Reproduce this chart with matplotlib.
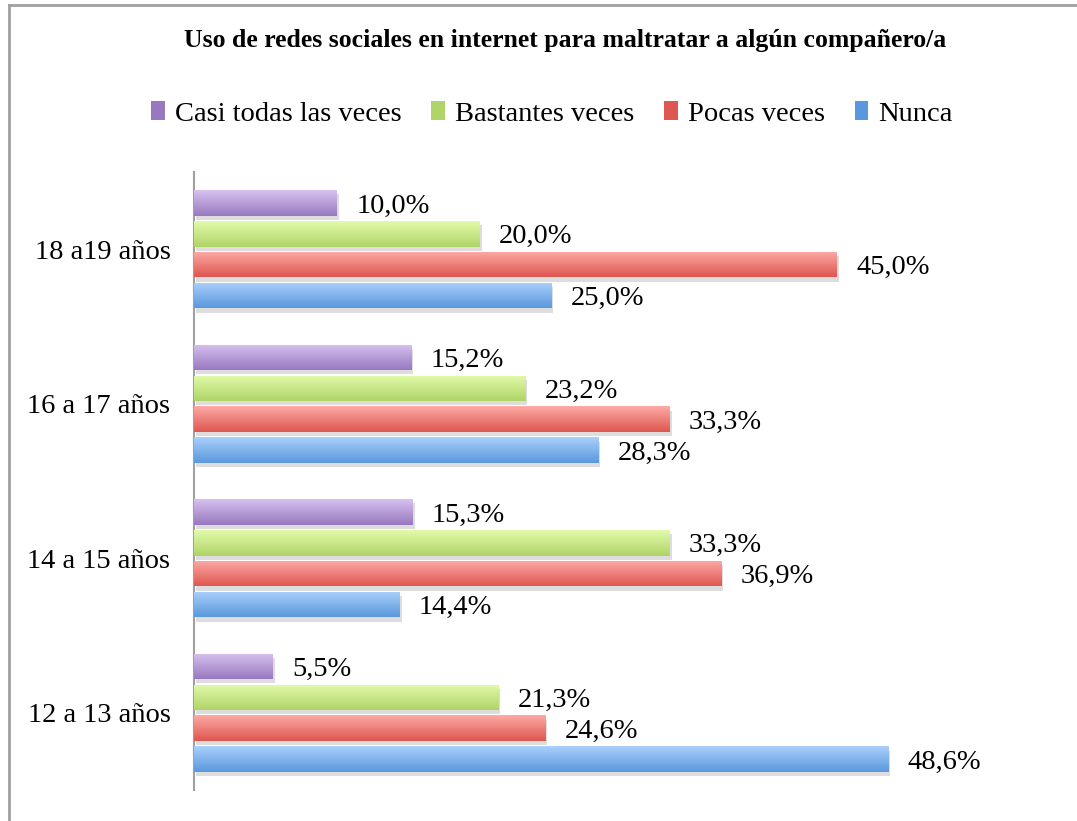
import numpy as np
import matplotlib.pyplot as plt
from matplotlib.patches import Patch
from matplotlib.lines import Line2D
import matplotlib.patheffects as pe
from matplotlib.colors import LinearSegmentedColormap

plt.rcParams['font.family'] = ['Liberation Serif', 'DejaVu Serif']

categorias = ['12 a 13 años', '14 a 15 años', '16 a 17 años', '18 a19 años']
series = ['Casi todas las veces', 'Bastantes veces', 'Pocas veces', 'Nunca']
casi_todas = [5.5, 15.3, 15.2, 10.0]
bastantes = [21.3, 33.3, 23.2, 20.0]
pocas = [24.6, 36.9, 33.3, 45.0]
nunca = [48.6, 14.4, 28.3, 25.0]
valores = [casi_todas, bastantes, pocas, nunca]

# gradient top (light) -> bottom (dark)
colores = [('#d6c2f0', '#9878bf'),
           ('#e2faaa', '#b0d468'),
           ('#fdaaa6', '#de5750'),
           ('#aad0fb', '#5a98dd')]

fig = plt.figure(figsize=(10.77, 8.21), dpi=100)
ax = fig.add_axes([194/1077, 1 - 790/821, 857/1077, 618/821])

y = np.arange(len(categorias))
h = 0.2
alto = 0.165
offsets = [1.5*h, 0.5*h, -0.5*h, -1.5*h]

for vals, (c1, c2), off, name in zip(valores, colores, offsets, series):
    cmap = LinearSegmentedColormap.from_list(name, [c2, c1])
    bars = ax.barh(y + off, vals, height=alto, color=c2, zorder=2,
                   path_effects=[pe.SimplePatchShadow(offset=(1.5, -3), shadow_rgbFace='#909090', alpha=0.3),
                                 pe.Normal()])
    for b, v in zip(bars, vals):
        x0, y0 = b.get_x(), b.get_y()
        grad = np.linspace(0, 1, 64).reshape(-1, 1)
        im = ax.imshow(grad, cmap=cmap, aspect='auto', origin='lower',
                       extent=(x0, x0 + b.get_width(), y0, y0 + b.get_height()), zorder=3)
        im.set_clip_path(b)
        ax.text(v + 1.35, b.get_y() + b.get_height()/2 - 0.02, ('%.1f%%' % v).replace('.', ','),
                va='center', ha='left', fontsize=20.5, zorder=4)

ax.set_xlim(0, 60)
ax.set_ylim(-0.5, 3.5)
ax.set_yticks(y)
ax.set_yticklabels(categorias, fontsize=20.5)
ax.tick_params(axis='y', length=0, pad=17)
ax.set_xticks([])
for s in ['top', 'right', 'bottom']:
    ax.spines[s].set_visible(False)
ax.spines['left'].set_color('#a0a0a0')
ax.spines['left'].set_linewidth(1.5)

handles = [Patch(facecolor=c2, edgecolor='none') for c1, c2 in colores]
fig.legend(handles, series, loc='center', bbox_to_anchor=(552/1077, 1 - 114/821), ncol=4,
           frameon=False, fontsize=20.5, handlelength=0.48, handleheight=0.65,
           handletextpad=0.35, columnspacing=1.05)

fig.text(565/1077, 1 - 40/821, 'Uso de redes sociales en internet para maltratar a algún compañero/a',
         ha='center', va='center', fontsize=18.5, fontweight='bold')

# outer frame (left and top edges visible)
fig.add_artist(Line2D([8.5/1077, 8.5/1077], [0, 1 - 5/821], color='#a0a0a0', lw=2))
fig.add_artist(Line2D([8.5/1077, 1], [1 - 5/821, 1 - 5/821], color='#a0a0a0', lw=2))

fig.savefig('out.png', dpi=100)
